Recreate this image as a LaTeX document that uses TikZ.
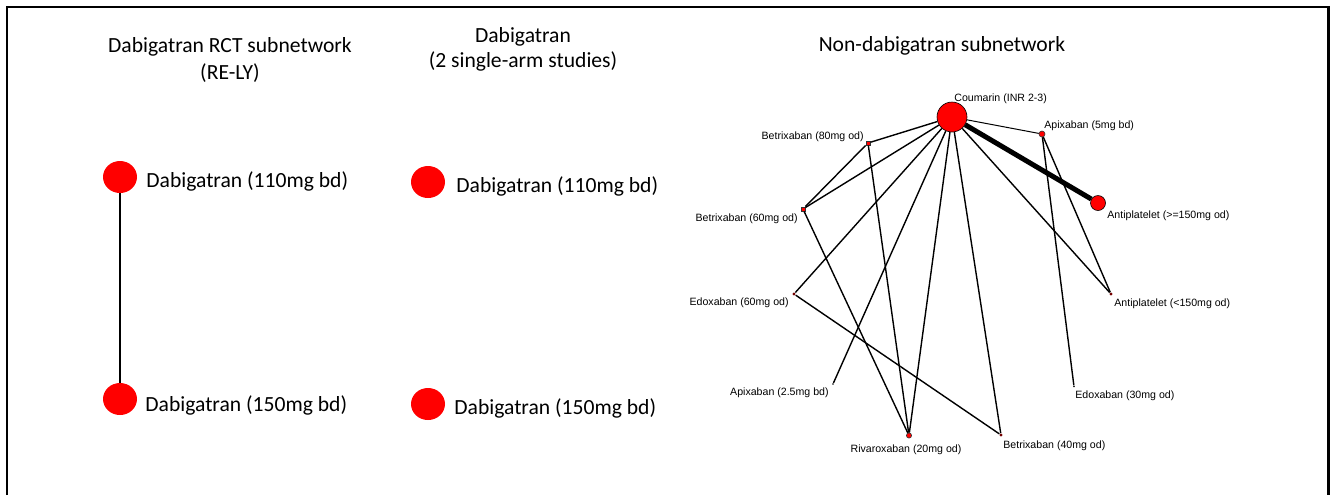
\documentclass[tikz,border=0pt]{standalone}
\usepackage{fontspec}
\setmainfont{Carlito}
\newfontfamily\netfont{Liberation Sans}
\usetikzlibrary{shapes.geometric}

\begin{document}
\begin{tikzpicture}[x=0.5pt,y=-0.5pt]
\tikzstyle{every node}+=[inner sep=0pt]
\tikzstyle{hdr}=[font=\fontsize{10.8}{13}\selectfont, anchor=base]
\tikzstyle{lbl}=[font=\fontsize{10.8}{13}\selectfont, anchor=base west]
\tikzstyle{tx}=[font=\netfont\fontsize{5.3}{6}\selectfont]
\tikzstyle{bigdot}=[ellipse, fill=red, minimum width=17pt, minimum height=16pt]
\tikzstyle{hub}=[circle, draw=black, line width=0.3pt, fill=red, minimum size=15pt]
\tikzstyle{mid}=[circle, draw=black, line width=0.3pt, fill=red, minimum size=7.5pt]
\tikzstyle{sq}=[rectangle, draw=black!80, line width=0.3pt, fill=red, minimum size=2.2pt]
\tikzstyle{pt}=[circle, fill=red!45!black, minimum size=1.6pt]
\tikzstyle{tiny}=[circle, fill=black, minimum size=0.8pt]
\tikzstyle{edge}=[line width=0.7pt]
\useasboundingbox (0,0) rectangle (1330,495);
% frame
\draw [line width=1.25pt] (7,495) -- (7,7) -- (1328.5,7) -- (1328.5,495);
% RCT subnetwork
\node [hdr] (t1a) at (230,52) {Dabigatran RCT subnetwork};
\node [hdr] (t1b) at (230,79) {(RE-LY)};
\node [bigdot] (r110) at (120,177) {};
\node [bigdot] (r150) at (120,399) {};
\draw [line width=1pt] (r110) -- (r150);
\node [lbl] (r110l) at (146,187) {Dabigatran (110mg bd)};
\node [lbl] (r150l) at (145,411) {Dabigatran (150mg bd)};
% single-arm studies
\node [hdr] (t2a) at (523,42) {Dabigatran};
\node [hdr] (t2b) at (523,67) {(2 single-arm studies)};
\node [bigdot] (s110) at (428,182) {};
\node [bigdot] (s150) at (428,404) {};
\node [lbl] (s110l) at (456,192) {Dabigatran (110mg bd)};
\node [lbl] (s150l) at (454,414) {Dabigatran (150mg bd)};
% non-dabigatran subnetwork
\node [hdr] (t3) at (942,51) {Non-dabigatran subnetwork};
\node [sq] (b80) at (868,143) {};
\node [sq] (b60) at (803,209) {};
\node [pt] (e60) at (794,294) {};
\node [tiny] (a25) at (833,384) {};
\node [circle, draw=black!80, line width=0.3pt, fill=red, minimum size=2.6pt] (riv) at (909,435.5) {};
\node [pt] (b40) at (1001,435) {};
\node [tiny] (e30) at (1074,386.5) {};
\node [pt] (apl) at (1111,294) {};
\node [circle, draw=black!80, line width=0.3pt, fill=red, minimum size=3pt] (a5) at (1042,134) {};
\draw [edge] (b80) -- (b60);
\draw [edge] (b80) -- (riv);
\draw [edge] (b60) -- (riv);
\draw [edge] (e60) -- (b40);
\draw [edge] (a5) -- (apl);
\draw [edge] (a5) -- (e30);
\node [mid] (aph) at (1098,203) {};
\node [hub] (cou) at (952,117) {};
\draw [edge] (cou) -- (b80);
\draw [edge] (cou) -- (b60);
\draw [edge] (cou) -- (e60);
\draw [edge] (cou) -- (a25);
\draw [edge] (cou) -- (riv);
\draw [edge] (cou) -- (b40);
\draw [edge] (cou) -- (apl);
\draw [line width=0.5pt] (cou) -- (a5);
\draw [line width=2.5pt] (cou) -- (aph);
\node [tx, anchor=base west] (coul) at (954,101) {Coumarin (INR 2-3)};
\node [tx, anchor=base east] (b80l) at (864,139) {Betrixaban (80mg od)};
\node [tx, anchor=base east] (b60l) at (798,221) {Betrixaban (60mg od)};
\node [tx, anchor=base east] (e60l) at (789,305) {Edoxaban (60mg od)};
\node [tx, anchor=base east] (a25l) at (829,395) {Apixaban (2.5mg bd)};
\node [tx, anchor=base] (rivl) at (906,452) {Rivaroxaban (20mg od)};
\node [tx, anchor=base west] (b40l) at (1003,448) {Betrixaban (40mg od)};
\node [tx, anchor=base west] (e30l) at (1075,398) {Edoxaban (30mg od)};
\node [tx, anchor=base west] (apll) at (1114,306) {Antiplatelet (<150mg od)};
\node [tx, anchor=base west] (aphl) at (1107,218) {Antiplatelet (>=150mg od)};
\node [tx, anchor=base west] (a5l) at (1044,128) {Apixaban (5mg bd)};
\end{tikzpicture}
\end{document}
